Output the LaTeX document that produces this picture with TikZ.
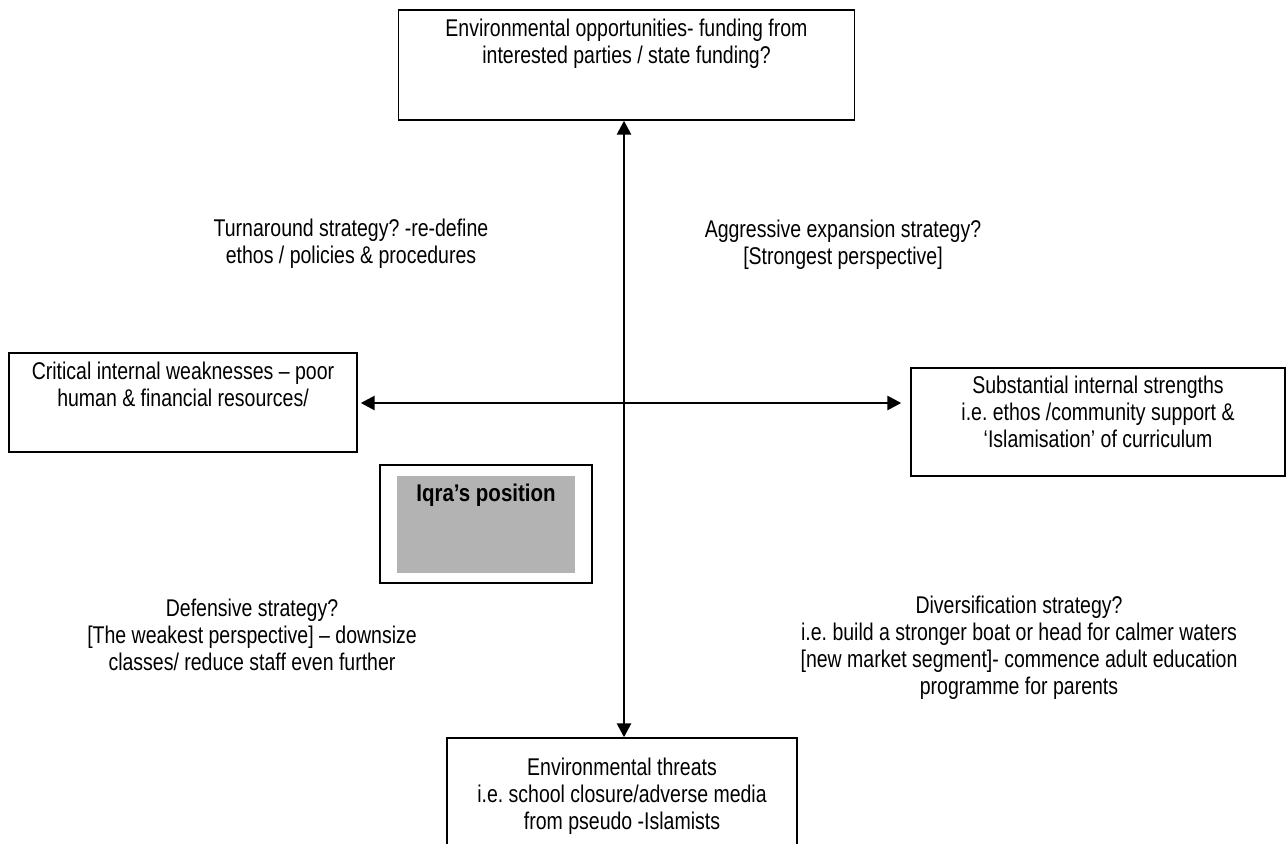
\documentclass[tikz,border=0pt]{standalone}
\usepackage{fontspec}
\setmainfont{Liberation Sans}
\usetikzlibrary{arrows.meta,calc}
\frenchspacing
\newcommand{\stxt}[2][1.24]{\scalebox{1}[#1]{\begin{tabular}{@{}c@{}}#2\end{tabular}}}
\begin{document}
\begin{tikzpicture}[x=1pt,y=-1pt,
  box/.style={draw=black,line width=1.4pt,rectangle,inner sep=0pt},
  txt/.style={align=center,inner sep=0pt,yshift=-3pt,font=\fontsize{19.5}{21.8}\selectfont},
  arr/.style={line width=2.7pt,{Triangle[length=14pt,width=14pt]}-{Triangle[length=14pt,width=14pt]}}]
\useasboundingbox (0,0) rectangle (1287,843);
\clip (0,0) rectangle (1287,843);
% boxes
\node[box,minimum width=456pt,minimum height=110pt] (top) at (626.5,65) {};
\node[box,minimum width=348pt,minimum height=99pt] (left) at (183,402.5) {};
\node[box,minimum width=374pt,minimum height=108pt] (right) at (1098,422) {};
\node[box,minimum width=350pt,minimum height=140pt] (bottom) at (622,808) {};
% box texts
\node[txt] (toptext) at (626.5,41.5) {\stxt{Environmental opportunities- funding from\\interested parties / state funding?}};
\node[txt] (lefttext) at (183,384.5) {\stxt{Critical internal weaknesses -- poor\\human \& financial resources/}};
\node[txt] (righttext) at (1098,412.5) {\stxt{Substantial internal strengths\\i.e. ethos /community support \&\\‘Islamisation’ of curriculum}};
\node[txt] (bottomtext) at (622,794) {\stxt{Environmental threats\\i.e. school closure/adverse media\\from pseudo -Islamists}};
% axes
\coordinate (c) at (624,403);
\draw[arr] (top.south -| c) -- (bottom.north -| c);
\draw[arr,shorten <=3pt,shorten >=9pt] (left.east |- c) -- (right.west |- c);
% Iqra position
\node[box,line width=1.8pt,minimum width=212pt,minimum height=118pt] (iqra) at (486,524) {};
\node[fill={rgb,255:red,179;green,179;blue,179},inner sep=0pt,minimum width=178pt,minimum height=97pt] (iqragray) at (486,524.5) {};
\node[txt,font=\fontsize{20.5}{22}\selectfont\bfseries] (iqratext) at (486,493) {\stxt[1.18]{Iqra’s position}};
% quadrant labels
\node[txt] (turn) at (351,241.5) {\stxt{Turnaround strategy? -re-define\\ethos / policies \& procedures}};
\node[txt] (aggr) at (843,242.5) {\stxt{Aggressive expansion strategy?\\{}{[Strongest perspective]}}};
\node[txt] (def) at (252,635) {\stxt{Defensive strategy?\\{}{[The weakest perspective]} -- downsize\\classes/ reduce staff even further}};
\node[txt] (div) at (1019,646) {\stxt{Diversification strategy?\\i.e. build a stronger boat or head for calmer waters\\{}{[new market segment]}- commence adult education\\programme for parents}};
\end{tikzpicture}
\end{document}
